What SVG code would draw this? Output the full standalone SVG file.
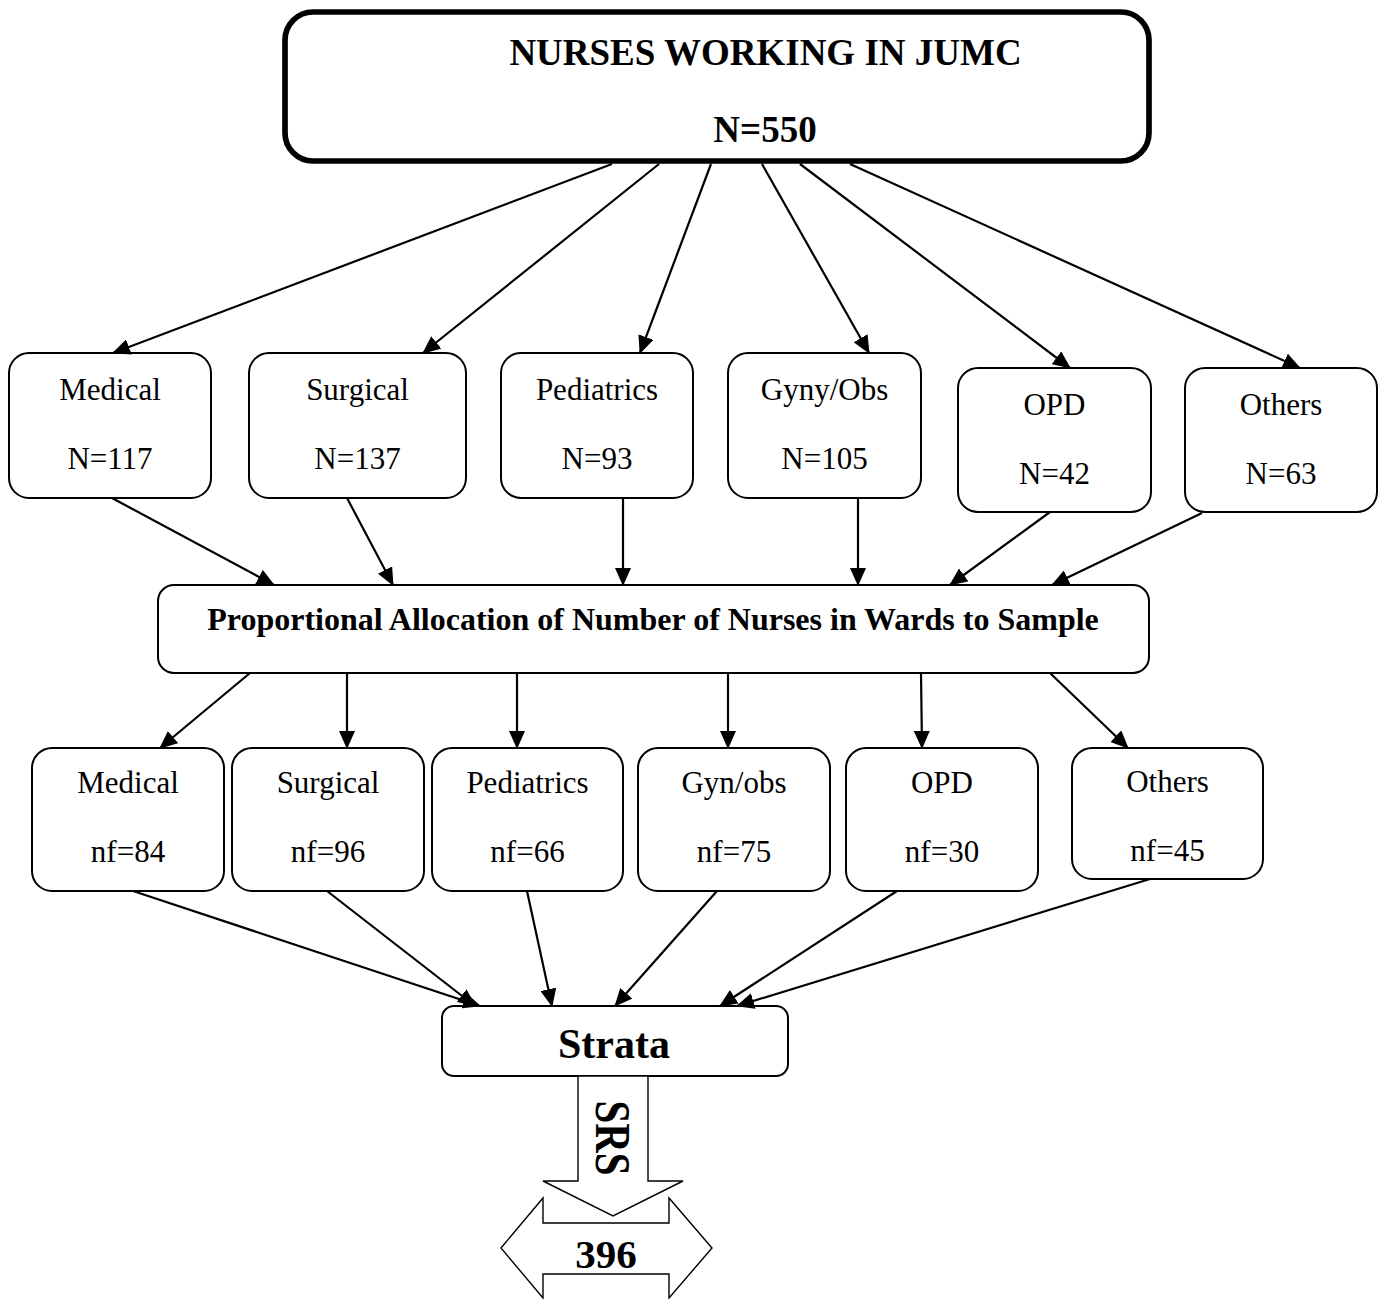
<svg xmlns="http://www.w3.org/2000/svg" width="1385" height="1299" viewBox="0 0 1385 1299">
<style>
.box{fill:#fff;stroke:#000;stroke-width:2}
.t{font-family:"Liberation Serif","Times New Roman",serif;font-size:31px;text-anchor:middle;fill:#000}
.b{font-family:"Liberation Serif","Times New Roman",serif;font-weight:bold;text-anchor:middle;fill:#000}
.c line{stroke:#000;stroke-width:2.2;marker-end:url(#ah)}
.blk{fill:#fff;stroke:#000;stroke-width:1.4}
</style>
<defs>
<marker id="ah" viewBox="0 0 18 16" refX="17" refY="8" markerWidth="18" markerHeight="16" markerUnits="userSpaceOnUse" orient="auto">
<path d="M0,0 L18,8 L0,16 z" fill="#000"/>
</marker>
</defs>
<rect width="1385" height="1299" fill="#fff"/>

<g id="top">
<rect x="285" y="12" width="864" height="149" rx="28" fill="#fff" stroke="#000" stroke-width="5.7"/>
<text class="b" x="765.5" y="65" font-size="37">NURSES WORKING IN JUMC</text>
<text class="b" x="765" y="142" font-size="37">N=550</text>
</g>

<g id="w1-medical"><rect class="box" x="9" y="353" width="202" height="145" rx="20"/><text class="t" x="110" y="400">Medical</text><text class="t" x="110" y="469">N=117</text></g>
<g id="w1-surgical"><rect class="box" x="249" y="353" width="217" height="145" rx="20"/><text class="t" x="357.5" y="400">Surgical</text><text class="t" x="357.5" y="469">N=137</text></g>
<g id="w1-pediatrics"><rect class="box" x="501" y="353" width="192" height="145" rx="20"/><text class="t" x="597" y="400">Pediatrics</text><text class="t" x="597" y="469">N=93</text></g>
<g id="w1-gyny"><rect class="box" x="728" y="353" width="193" height="145" rx="20"/><text class="t" x="824.5" y="400">Gyny/Obs</text><text class="t" x="824.5" y="469">N=105</text></g>
<g id="w1-opd"><rect class="box" x="958" y="368" width="193" height="144" rx="20"/><text class="t" x="1054.5" y="415">OPD</text><text class="t" x="1054.5" y="484">N=42</text></g>
<g id="w1-others"><rect class="box" x="1185" y="368" width="192" height="144" rx="20"/><text class="t" x="1281" y="415">Others</text><text class="t" x="1281" y="484">N=63</text></g>

<g id="prop">
<rect class="box" x="158" y="585" width="991" height="88" rx="16"/>
<text class="b" x="653" y="630" font-size="32">Proportional Allocation of Number of Nurses in Wards to Sample</text>
</g>

<g id="w2-medical"><rect class="box" x="32" y="748" width="192" height="143" rx="20"/><text class="t" x="128" y="793">Medical</text><text class="t" x="128" y="862">nf=84</text></g>
<g id="w2-surgical"><rect class="box" x="232" y="748" width="192" height="143" rx="20"/><text class="t" x="328" y="793">Surgical</text><text class="t" x="328" y="862">nf=96</text></g>
<g id="w2-pediatrics"><rect class="box" x="432" y="748" width="191" height="143" rx="20"/><text class="t" x="527.5" y="793">Pediatrics</text><text class="t" x="527.5" y="862">nf=66</text></g>
<g id="w2-gyn"><rect class="box" x="638" y="748" width="192" height="143" rx="20"/><text class="t" x="734" y="793">Gyn/obs</text><text class="t" x="734" y="862">nf=75</text></g>
<g id="w2-opd"><rect class="box" x="846" y="748" width="192" height="143" rx="20"/><text class="t" x="942" y="793">OPD</text><text class="t" x="942" y="862">nf=30</text></g>
<g id="w2-others"><rect class="box" x="1072" y="748" width="191" height="131" rx="20"/><text class="t" x="1167.5" y="792">Others</text><text class="t" x="1167.5" y="861">nf=45</text></g>

<g id="strata">
<rect class="box" x="442" y="1006" width="346" height="70" rx="12"/>
<text class="b" x="614" y="1058" font-size="42">Strata</text>
</g>

<g id="srs">
<polygon class="blk" points="578,1076 648,1076 648,1181 683,1181 613,1216 543,1181 578,1181"/>
<text class="b" font-size="50" transform="translate(612.5,1138) rotate(90)" x="0" y="16.5" textLength="75" lengthAdjust="spacingAndGlyphs">SRS</text>
</g>

<g id="result">
<polygon class="blk" points="501,1248 543,1198 543,1223 669,1223 669,1198 712,1248 669,1298 669,1274 543,1274 543,1298"/>
<text class="b" x="606" y="1268" font-size="41">396</text>
</g>

<g id="connectors" class="c">
<line x1="612" y1="164" x2="113" y2="353"/>
<line x1="659" y1="164" x2="423" y2="353"/>
<line x1="711" y1="164" x2="640" y2="353"/>
<line x1="762" y1="164" x2="869" y2="353"/>
<line x1="800" y1="164" x2="1070" y2="368"/>
<line x1="850" y1="164" x2="1300" y2="368"/>

<line x1="112" y1="498" x2="274" y2="585"/>
<line x1="347" y1="498" x2="393" y2="585"/>
<line x1="623" y1="498" x2="623" y2="585"/>
<line x1="858" y1="498" x2="858" y2="585"/>
<line x1="1050" y1="512" x2="950" y2="585"/>
<line x1="1202" y1="513" x2="1052" y2="585"/>

<line x1="250" y1="673" x2="160" y2="748"/>
<line x1="347" y1="673" x2="347" y2="748"/>
<line x1="517" y1="673" x2="517" y2="748"/>
<line x1="728" y1="673" x2="728" y2="748"/>
<line x1="921" y1="673" x2="922" y2="748"/>
<line x1="1050" y1="673" x2="1128" y2="748"/>

<line x1="133" y1="891" x2="480" y2="1006"/>
<line x1="327" y1="891" x2="475" y2="1006"/>
<line x1="527" y1="891" x2="552" y2="1006"/>
<line x1="717" y1="891" x2="615" y2="1006"/>
<line x1="897" y1="891" x2="720" y2="1006"/>
<line x1="1150" y1="879" x2="737" y2="1006"/>
</g>
</svg>
